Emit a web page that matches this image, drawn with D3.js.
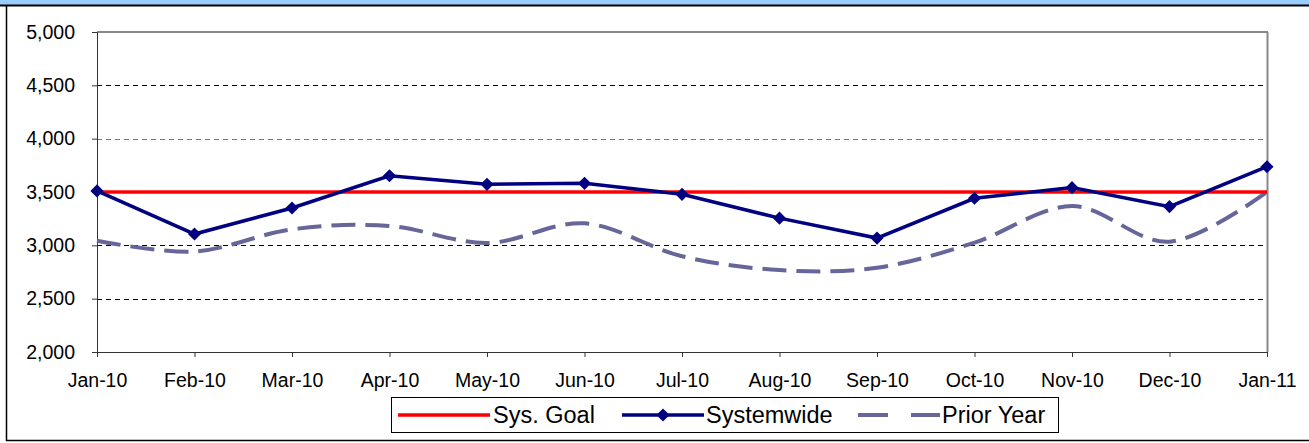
<!DOCTYPE html>
<html>
<head>
<meta charset="utf-8">
<script src="https://cdn.jsdelivr.net/npm/d3@7"></script>
<style>
  body { margin: 0; background: #ffffff; }
  svg { display: block; font-family: "Liberation Sans", Arial, sans-serif; }
</style>
</head>
<body>
<div id="chart"></div>
<script>
// data
const months = ["Jan-10", "Feb-10", "Mar-10", "Apr-10", "May-10", "Jun-10", "Jul-10",
                "Aug-10", "Sep-10", "Oct-10", "Nov-10", "Dec-10", "Jan-11"];
const systemwide = [3510, 3106, 3350, 3652, 3572, 3581, 3478, 3255, 3068, 3441, 3541, 3363, 3737];
const priorYear = [3043, 2942, 3150, 3182, 3022, 3206, 2898, 2768, 2790, 3025, 3368, 3034, 3500];
const sysGoal = 3500;
const yTicks = [2000, 2500, 3000, 3500, 4000, 4500, 5000];
const legendItems = ["Sys. Goal", "Systemwide", "Prior Year"];

const W = 1309, H = 443;
const margin = { top: 32, right: 42, bottom: 91, left: 97 };
const width = W - margin.left - margin.right;
const height = H - margin.top - margin.bottom;

const root = d3.select("#chart").append("svg")
    .attr("width", W)
    .attr("height", H);

// outer frame and the band above it
root.append("rect").attr("x", 0).attr("y", 0).attr("width", W).attr("height", 5).attr("fill", "#99ccff");
root.append("line").attr("x1", 0).attr("x2", W).attr("y1", 5.5).attr("y2", 5.5)
    .attr("stroke", "#000").attr("stroke-width", 2);
root.append("line").attr("x1", 6.5).attr("x2", 6.5).attr("y1", 5).attr("y2", 441)
    .attr("stroke", "#000").attr("stroke-width", 1.5);
root.append("line").attr("x1", 6).attr("x2", W).attr("y1", 440.5).attr("y2", 440.5)
    .attr("stroke", "#000").attr("stroke-width", 1.5);

const svg = root.append("g")
    .attr("transform", "translate(" + margin.left + "," + margin.top + ")");

const x = d3.scalePoint()
    .domain(months)
    .range([0, width]);

const y = d3.scaleLinear()
    .domain([2000, 5000])
    .range([height, 0]);

// grid lines
svg.selectAll(".grid")
   .data(yTicks.filter(d => d > 2000 && d < 5000))
   .enter()
   .append("line")
   .attr("x1", 0)
   .attr("x2", width)
   .attr("y1", d => Math.round(y(d)) + 0.5)
   .attr("y2", d => Math.round(y(d)) + 0.5)
   .attr("stroke", d => d == 4000 ? "#777" : "#000")
   .attr("stroke-dasharray", "5,4");

// plot area border top / right
svg.append("line").attr("x1", 0).attr("x2", width + 1).attr("y1", 0).attr("y2", 0)
   .attr("stroke", "#888").attr("stroke-width", 2);
svg.append("line").attr("x1", width + 0.5).attr("x2", width + 0.5).attr("y1", 0).attr("y2", height)
   .attr("stroke", "#888").attr("stroke-width", 2);

// axes
const yAxis = svg.append("g")
   .call(d3.axisLeft(y).tickValues(yTicks).tickSize(5).tickPadding(17).tickFormat(d3.format(",")));
yAxis.selectAll("text").style("font-size", "19.5px").attr("fill", "#000");
yAxis.selectAll("line, path").attr("stroke", "#333");

const xAxis = svg.append("g")
   .attr("transform", "translate(0," + height + ")")
   .call(d3.axisBottom(x).tickSize(5).tickPadding(16));
xAxis.selectAll("text").style("font-size", "19.5px").attr("fill", "#000");
xAxis.selectAll("line, path").attr("stroke", "#333");

// prior year, smoothed dashed line
svg.append("path")
   .datum(priorYear)
   .attr("fill", "none")
   .attr("stroke", "#666699")
   .attr("stroke-width", 4)
   .attr("stroke-dasharray", "24,10")
   .attr("d", d3.line()
       .x((d, i) => x(months[i]))
       .y(d => y(d))
       .curve(d3.curveCatmullRom.alpha(0)));

// goal line
svg.append("line")
   .attr("x1", 0)
   .attr("x2", width)
   .attr("y1", y(sysGoal))
   .attr("y2", y(sysGoal))
   .attr("stroke", "#ff0000")
   .attr("stroke-width", 3.5);

// systemwide
svg.append("path")
   .datum(systemwide)
   .attr("fill", "none")
   .attr("stroke", "#000080")
   .attr("stroke-width", 3.5)
   .attr("d", d3.line()
       .x((d, i) => x(months[i]))
       .y(d => y(d)));

svg.selectAll(".marker")
   .data(systemwide)
   .enter()
   .append("path")
   .attr("transform", (d, i) => "translate(" + x(months[i]) + "," + y(d) + ")")
   .attr("d", d3.symbol().type(d3.symbolDiamond2).size(110))
   .attr("fill", "#000080");

// legend
const legend = root.append("g").attr("transform", "translate(391,397)");
legend.append("rect")
   .attr("x", 0.5).attr("y", 0.5).attr("width", 667).attr("height", 35)
   .attr("fill", "#fff").attr("stroke", "#000").attr("stroke-width", 1);

const legendX = [7, 231, 467];
legendItems.forEach((name, i) => {
  const g = legend.append("g").attr("transform", "translate(" + legendX[i] + ",18)");
  if (i == 0) {
    g.append("line").attr("x1", 0).attr("x2", 92).attr("stroke", "#ff0000").attr("stroke-width", 3.5);
  } else if (i == 1) {
    g.append("line").attr("x1", 0).attr("x2", 82).attr("stroke", "#000080").attr("stroke-width", 3.5);
    g.append("path").attr("transform", "translate(41,0)")
     .attr("d", d3.symbol().type(d3.symbolDiamond2).size(110)).attr("fill", "#000080");
  } else {
    g.append("line").attr("x1", 0).attr("x2", 82).attr("stroke", "#666699").attr("stroke-width", 4)
     .attr("stroke-dasharray", "30,23");
  }
  g.append("text")
   .attr("x", i == 0 ? 95 : 84)
   .attr("y", 8)
   .style("font-size", "23.5px")
   .attr("fill", "#000")
   .text(name);
});
</script>
</body>
</html>
